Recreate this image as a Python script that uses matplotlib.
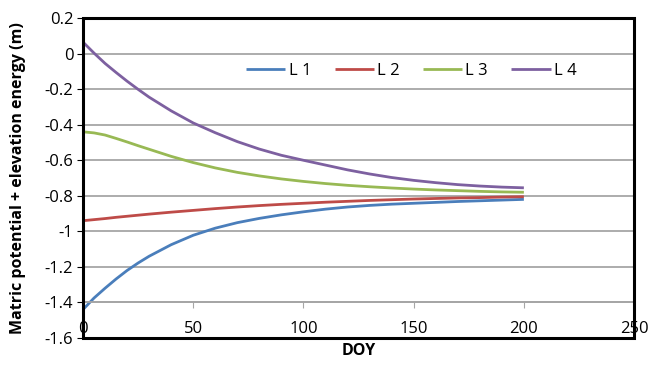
import matplotlib
matplotlib.use("Agg")
import matplotlib.pyplot as plt
from matplotlib.patches import Rectangle

plt.rcParams['font.family'] = ['Open Sans', 'DejaVu Sans']

doy = [0, 5, 10, 15, 20, 25, 30, 40, 50, 60, 70, 80, 90, 100, 110, 120, 130, 140, 150, 160, 170, 180, 190, 200]
l1 = [-1.44, -1.375, -1.32, -1.268, -1.22, -1.178, -1.14, -1.075, -1.022, -0.982, -0.951, -0.927, -0.907, -0.89,
      -0.875, -0.863, -0.854, -0.847, -0.842, -0.837, -0.832, -0.828, -0.824, -0.82]
l2 = [-0.94, -0.934, -0.928, -0.921, -0.915, -0.909, -0.903, -0.892, -0.882, -0.872, -0.863, -0.855, -0.848, -0.842,
      -0.836, -0.831, -0.826, -0.822, -0.818, -0.815, -0.812, -0.81, -0.807, -0.805]
l3 = [-0.44, -0.446, -0.458, -0.477, -0.497, -0.518, -0.538, -0.578, -0.613, -0.643, -0.668, -0.688, -0.705, -0.719,
      -0.731, -0.741, -0.749, -0.756, -0.762, -0.767, -0.771, -0.775, -0.778, -0.78]
l4 = [0.065, 0.003, -0.055, -0.106, -0.155, -0.201, -0.245, -0.322, -0.39, -0.445, -0.495, -0.537, -0.572, -0.6,
      -0.627, -0.654, -0.677, -0.697, -0.713, -0.726, -0.737, -0.745, -0.751, -0.755]
series = {"L 1": l1, "L 2": l2, "L 3": l3, "L 4": l4}
colors = ["#4a7ebb", "#be4b48", "#98b954", "#7d60a0"]

xticks = [0, 50, 100, 150, 200, 250]
yticks = [0.2, 0, -0.2, -0.4, -0.6, -0.8, -1, -1.2, -1.4, -1.6]
ytick_labels = ["0.2", "0", "-0.2", "-0.4", "-0.6", "-0.8", "-1", "-1.2", "-1.4", "-1.6"]

fig = plt.figure(figsize=(6.51, 3.69), dpi=100)
ax = fig.add_axes([0.1275, 0.084, 0.8465, 0.867])

for (name, vals), c in zip(series.items(), colors):
    ax.plot(doy, vals, color=c, lw=2.0, label=name, solid_capstyle='butt', solid_joinstyle='round')

ax.set_xlim(0, 250)
ax.set_ylim(-1.6, 0.2)
ax.set_xticks(xticks)
ax.set_xticklabels([str(t) for t in xticks])
ax.set_yticks(yticks)
ax.set_yticklabels(ytick_labels)

ax.grid(axis='y', color='#a6a6a6', lw=1.3)
ax.set_axisbelow(True)

# Excel-style: horizontal axis crosses at -1.4
ax.spines['bottom'].set_position(('data', -1.4))
ax.spines['bottom'].set_color('#a6a6a6')
ax.spines['bottom'].set_linewidth(1.3)
for s in ['left', 'right', 'top']:
    ax.spines[s].set_visible(False)
ax.add_patch(Rectangle((0, 0), 1, 1, transform=ax.transAxes, fill=False,
                       ec='black', lw=2.2, clip_on=False, zorder=5))

ax.tick_params(axis='x', direction='out', length=4, color='#a6a6a6', labelsize=12, pad=9)
ax.tick_params(axis='y', direction='out', length=4, color='black', labelsize=12, pad=3)

ax.set_xlabel("DOY", fontsize=11.5, fontweight='bold')
ax.xaxis.set_label_coords(0.5, -0.015)
ax.set_ylabel("Matric potential + elevation energy (m)", fontsize=11.5, fontweight='bold')
ax.yaxis.set_label_coords(-0.103, 0.5)

leg = ax.legend(loc='center', bbox_to_anchor=(0.596, 0.834), ncol=4, frameon=False,
                fontsize=12, handlelength=2.35, handletextpad=0.2, columnspacing=1.4)

fig.savefig("out.png", dpi=100)
